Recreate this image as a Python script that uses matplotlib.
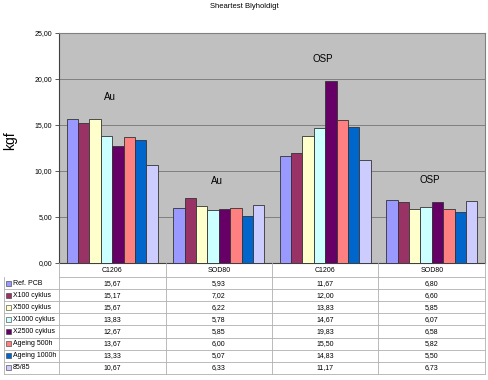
import matplotlib

matplotlib.use("Agg")
import matplotlib.pyplot as plt
from matplotlib.patches import Rectangle
from matplotlib.lines import Line2D

plt.rcParams["font.family"] = ["Liberation Sans", "DejaVu Sans"]

categories = ["C1206", "SOD80", "C1206", "SOD80"]
series = ["Ref. PCB", "X100 cyklus", "X500 cyklus", "X1000 cyklus",
          "X2500 cyklus", "Ageing 500h", "Ageing 1000h", "85/85"]
values = [
    [15.67, 5.93, 11.67, 6.80],
    [15.17, 7.02, 12.00, 6.60],
    [15.67, 6.22, 13.83, 5.85],
    [13.83, 5.78, 14.67, 6.07],
    [12.67, 5.85, 19.83, 6.58],
    [13.67, 6.00, 15.50, 5.82],
    [13.33, 5.07, 14.83, 5.50],
    [10.67, 6.33, 11.17, 6.73],
]
colors = ["#9999FF", "#993366", "#FFFFCC", "#CCFFFF",
          "#660066", "#FF8080", "#0066CC", "#CCCCFF"]
group_labels = ["Au", "Au", "OSP", "OSP"]
label_heights = [18.0, 8.9, 22.2, 9.0]

W, H = 489, 380
fig = plt.figure(figsize=(W / 100, H / 100), dpi=100)

# plot area in pixels
px_l, px_r, px_t, px_b = 59, 485, 33, 263
ax = fig.add_axes([px_l / W, 1 - px_b / H, (px_r - px_l) / W, (px_b - px_t) / H])
ax.set_facecolor("#C0C0C0")

bw = 0.107
n = len(series)
for i, (name, vals, c) in enumerate(zip(series, values, colors)):
    xs = [g + (i - (n - 1) / 2) * bw for g in range(len(categories))]
    ax.bar(xs, vals, width=bw, color=c, edgecolor="#333333", linewidth=0.6, zorder=3)

for g, (lab, h) in enumerate(zip(group_labels, label_heights)):
    ax.text(g - 0.02, h, lab, ha="center", va="center", fontsize=7, color="black")

ax.set_xlim(-0.5, len(categories) - 0.5)
ax.set_ylim(0, 25)
ax.set_yticks(range(0, 26, 5))
ax.set_yticklabels([f"{v:.2f}".replace(".", ",") for v in range(0, 26, 5)], fontsize=5)
ax.yaxis.grid(True, color="#808080", linewidth=0.7, zorder=0)
ax.set_xticks([])
ax.tick_params(axis="y", length=3, width=0.6, color="#404040", pad=2)
for s in ax.spines.values():
    s.set_color("#808080")
    s.set_linewidth(0.8)
ax.spines["left"].set_color("#404040")
ax.spines["bottom"].set_color("#404040")
ax.set_ylabel("kgf", fontsize=10)
ax.yaxis.set_label_coords(-0.099, 0.53)

fig.text(0.5, 1 - 6 / H, "Sheartest Blyholdigt", ha="center", va="center", fontsize=5.5)

# data table below
def fx(p):
    return p / W

def fy(p):
    return 1 - p / H

grid_c = "#B0B0B0"
tbl_l = 4
row_tops = [263, 277] + [277 + 12.1 * (k + 1) for k in range(n)]
col_w = (px_r - px_l) / len(categories)
col_edges = [px_l + col_w * k for k in range(len(categories) + 1)]

# horizontal lines
fig.add_artist(Line2D([fx(px_l), fx(px_r)], [fy(row_tops[1]), fy(row_tops[1])], color=grid_c, lw=0.6))
for y in row_tops[2:]:
    fig.add_artist(Line2D([fx(tbl_l), fx(px_r)], [fy(y), fy(y)], color=grid_c, lw=0.6))
# vertical lines
fig.add_artist(Line2D([fx(tbl_l), fx(tbl_l)], [fy(row_tops[1]), fy(row_tops[-1])], color=grid_c, lw=0.6))
for x in col_edges:
    fig.add_artist(Line2D([fx(x), fx(x)], [fy(px_b), fy(row_tops[-1])], color=grid_c, lw=0.6))

# header
for k, cat in enumerate(categories):
    cx = (col_edges[k] + col_edges[k + 1]) / 2
    fig.text(fx(cx), fy((row_tops[0] + row_tops[1]) / 2), cat, ha="center", va="center", fontsize=5)

for i, (name, vals, c) in enumerate(zip(series, values, colors)):
    cy = (row_tops[i + 1] + row_tops[i + 2]) / 2
    fig.add_artist(Rectangle((fx(6), fy(cy + 2.5)), 5 / W, 5 / H, facecolor=c,
                             edgecolor="#333333", linewidth=0.4))
    fig.text(fx(13), fy(cy), name, ha="left", va="center", fontsize=5)
    for k, v in enumerate(vals):
        cx = (col_edges[k] + col_edges[k + 1]) / 2
        fig.text(fx(cx), fy(cy), f"{v:.2f}".replace(".", ","), ha="center", va="center", fontsize=5)

fig.savefig("out.png", dpi=100)
plt.close(fig)
